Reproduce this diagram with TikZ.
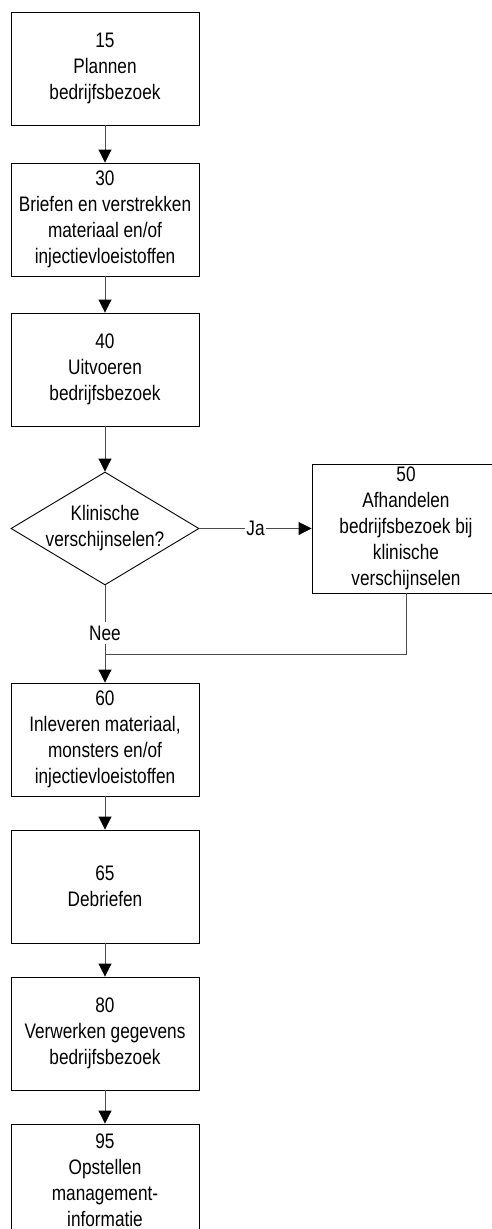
\documentclass[tikz,border=0pt]{standalone}
\usepackage{fontspec}
\setmainfont{Liberation Sans}[FakeStretch=0.82]
\usetikzlibrary{arrows.meta,shapes.geometric}
\tikzset{
  stepbox/.style={draw=black, line width=0.9pt, minimum width=188pt, minimum height=113pt, inner sep=2pt, align=center, font=\fontsize{21}{26}\selectfont},
  decision/.style={draw=black, line width=0.9pt, shape=diamond, minimum width=188pt, minimum height=113pt, inner sep=0pt},
  txt/.style={align=center, inner sep=0pt, font=\fontsize{21}{26}\selectfont},
  conn/.style={draw=black!70, line width=0.9pt},
  arr/.style={conn, -{Triangle[width=13pt,length=13pt,color=black]}},
  lbl/.style={fill=white, font=\fontsize{21}{26}\selectfont, inner xsep=1pt, inner ysep=4pt}
}
\begin{document}
\begin{tikzpicture}[x=1pt,y=-1pt]
\useasboundingbox (0,0) rectangle (492,1229);
\clip (0,0) rectangle (492,1229);
\fill[white] (0,0) rectangle (492,1229);
\node[stepbox] (b15) at (105,68.5) {15\\Plannen\\bedrijfsbezoek};
\node[stepbox] (b30) at (105,219.5) {30\\Briefen en verstrekken\\materiaal en/of\\injectievloeistoffen};
\node[stepbox] (b40) at (105,369.5) {40\\Uitvoeren\\bedrijfsbezoek};
\node[decision] (d) at (105,528.5) {};
\node[txt] (dt) at (d.center) {Klinische\\verschijnselen?};
\node[stepbox, minimum height=129pt, inner sep=0pt] (b50) at (406,528.5) {50\\Afhandelen\\bedrijfsbezoek bij\\klinische\\verschijnselen};
\node[stepbox] (b60) at (105,739.5) {60\\Inleveren materiaal,\\monsters en/of\\injectievloeistoffen};
\node[stepbox] (b65) at (105,886.5) {65\\Debriefen};
\node[stepbox] (b80) at (105,1033.5) {80\\Verwerken gegevens\\bedrijfsbezoek};
\node[stepbox] (b95) at (105,1180.5) {95\\Opstellen\\management-\\informatie};
\coordinate (m) at (105,654);
\draw[arr] (b15.south) -- (b30.north);
\draw[arr] (b30.south) -- (b40.north);
\draw[arr] (b40.south) -- (d.north);
\draw[arr] (d.east) -- node[lbl] (ja) {Ja} (b50.west);
\draw[arr] (d.south) -- node[lbl, pos=0.49] (nee) {Nee} (b60.north);
\draw[conn] (b50.south) |- (m);
\draw[arr] (b60.south) -- (b65.north);
\draw[arr] (b65.south) -- (b80.north);
\draw[arr] (b80.south) -- (b95.north);
\end{tikzpicture}
\end{document}
